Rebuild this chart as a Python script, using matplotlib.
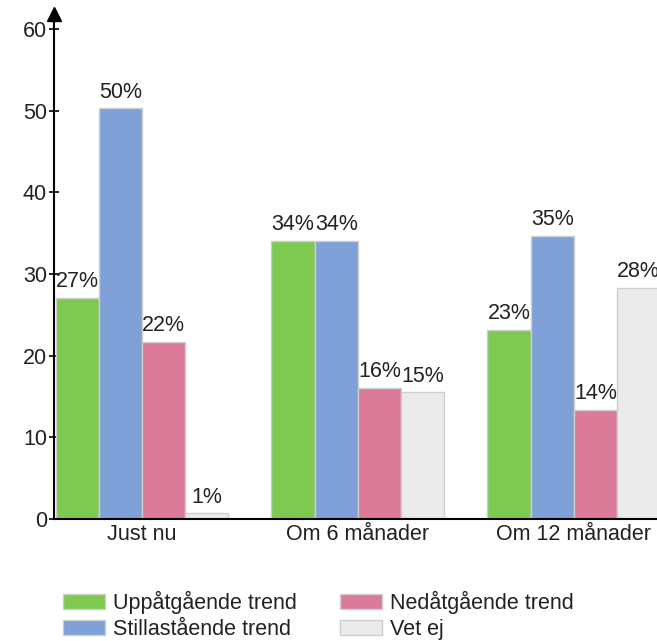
import matplotlib
matplotlib.use("Agg")
import matplotlib.pyplot as plt
import numpy as np
from matplotlib.patches import Patch

plt.rcParams['font.family'] = ['Liberation Sans', 'DejaVu Sans']

categories = ["Just nu", "Om 6 månader", "Om 12 månader"]
series_names = ["Uppåtgående trend", "Stillastående trend", "Nedåtgående trend", "Vet ej"]
uppat = [27.1, 34.1, 23.2]
stilla = [50.3, 34.1, 34.7]
nedat = [21.7, 16.1, 13.4]
vetej = [0.7, 15.5, 28.3]
uppat_lbl = ["27%", "34%", "23%"]
stilla_lbl = ["50%", "34%", "35%"]
nedat_lbl = ["22%", "16%", "14%"]
vetej_lbl = ["1%", "15%", "28%"]
colors = ["#7ec94f", "#7fa1d7", "#dc7a9a", "#ebebeb"]
yticks = [0, 10, 20, 30, 40, 50, 60]

values = [uppat, stilla, nedat, vetej]
labels = [uppat_lbl, stilla_lbl, nedat_lbl, vetej_lbl]

FS = 15.5
TXT = "#222222"

fig = plt.figure(figsize=(6.57, 6.41), dpi=100)
ax = fig.add_axes([54/657, 122/641, (657-54)/657, (519-14)/641])

x = np.arange(len(categories))
w = 0.2
for i, (vals, lbls, c) in enumerate(zip(values, labels, colors)):
    pos = x - 0.3 + i * w
    ax.bar(pos, vals, width=w, color=c, edgecolor="#cfcfcf", linewidth=1.0, zorder=2)
    for p, v, l in zip(pos, vals, lbls):
        ax.annotate(l, (p, v), xytext=(0, 4), textcoords="offset points",
                    ha="center", va="bottom", fontsize=FS, color=TXT, annotation_clip=False)

ax.set_xlim(-0.407, 2.385)
ax.set_ylim(0, (519-14)/((519-29)/60))
ax.set_yticks(yticks)
ax.set_xticks(x)
ax.set_xticklabels(categories)
ax.tick_params(axis="x", length=0, labelsize=FS, pad=3.5, labelcolor=TXT)
ax.tick_params(axis="y", direction="inout", length=7, width=1.2, labelsize=FS, pad=1.5, labelcolor=TXT)
for s in ["top", "right"]:
    ax.spines[s].set_visible(False)
ax.spines["left"].set_linewidth(1.5)
ax.spines["bottom"].set_linewidth(1.5)
ax.plot([0], [1.0], marker="^", color="black", markersize=10, transform=ax.transAxes, clip_on=False)

handles = [Patch(facecolor=c, edgecolor="#cfcfcf", label=n) for c, n in zip(colors, series_names)]
common = dict(loc="upper left", frameon=False, fontsize=FS, handlelength=1.95, handleheight=0.7,
              labelspacing=0.22, handletextpad=0.35, borderpad=0, borderaxespad=0, labelcolor=TXT)
leg1 = fig.legend(handles=[handles[0], handles[1]], bbox_to_anchor=(63/657, 1 - 591/641), **common)
leg2 = fig.legend(handles=[handles[2], handles[3]], bbox_to_anchor=(340/657, 1 - 591/641), **common)

fig.savefig("out.png", dpi=100)
